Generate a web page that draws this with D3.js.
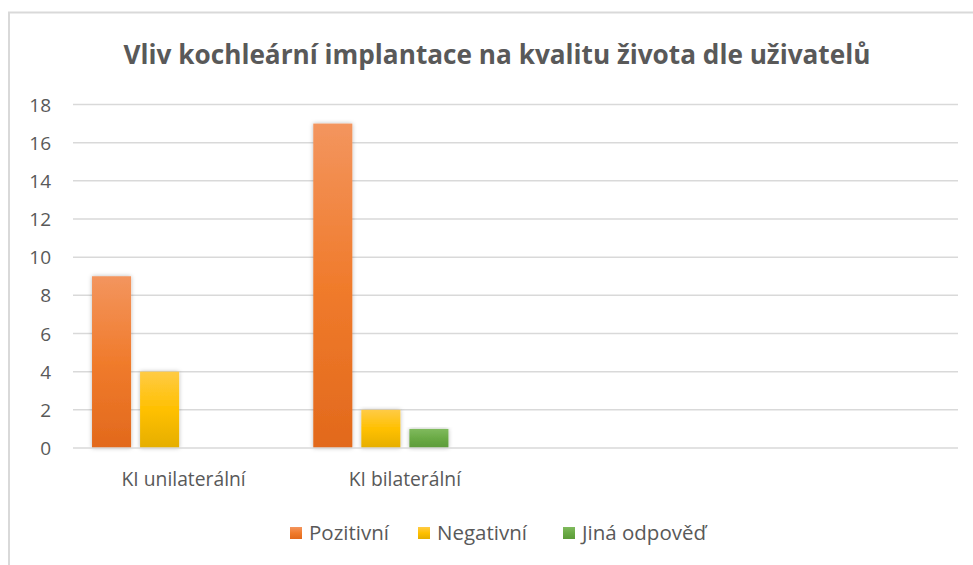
<!DOCTYPE html>
<html>
<head>
<meta charset="utf-8">
<script src="https://cdn.jsdelivr.net/npm/d3@7"></script>
<style>
  html, body { margin: 0; padding: 0; background: #fff; }
  svg { display: block; }
  text { font-family: "Open Sans", Lato, sans-serif; fill: #595959; }
</style>
</head>
<body>
<svg id="chart" width="973" height="565"></svg>
<script>
const titleText = "Vliv kochleární implantace na kvalitu života dle uživatelů";
const categories = ["KI unilaterální", "KI bilaterální", "", ""];
const seriesNames = ["Pozitivní", "Negativní", "Jiná odpověď"];
const pozitivni = [9, 17, null, null];
const negativni = [4, 2, null, null];
const jinaOdpoved = [null, 1, null, null];
const yTicks = [0, 2, 4, 6, 8, 10, 12, 14, 16, 18];

const seriesValues = [pozitivni, negativni, jinaOdpoved];
const seriesColors = [
  ["#F3955E", "#F07B2C", "#E2691C"],
  ["#FFCB45", "#FFC000", "#E5AE00"],
  ["#80BA5E", "#6AAA45", "#5C9B39"]
];

const FONT = "'Open Sans', Lato, sans-serif";
const svg = d3.select("#chart");
const W = 973, H = 565;
const plot = { left: 73, right: 958, top: 104.5, bottom: 448 };

// defs: gradients + shadow
const defs = svg.append("defs");
seriesColors.forEach((c, i) => {
  const g = defs.append("linearGradient").attr("id", "grad" + i)
    .attr("x1", 0).attr("y1", 0).attr("x2", 0).attr("y2", 1);
  g.append("stop").attr("offset", "0%").attr("stop-color", c[0]);
  g.append("stop").attr("offset", "50%").attr("stop-color", c[1]);
  g.append("stop").attr("offset", "100%").attr("stop-color", c[2]);
});
const f = defs.append("filter").attr("id", "shadow")
  .attr("x", "-30%").attr("y", "-10%").attr("width", "160%").attr("height", "130%");
f.append("feDropShadow").attr("dx", 0).attr("dy", 0).attr("stdDeviation", 2.2)
  .attr("flood-color", "#000").attr("flood-opacity", 0.28);

// chart border
svg.append("path")
  .attr("d", `M9,${H} L9,12.5 L${W},12.5`)
  .attr("fill", "none").attr("stroke", "#D9D9D9").attr("stroke-width", 2);

// title
svg.append("text")
  .attr("x", 497).attr("y", 64)
  .attr("text-anchor", "middle")
  .style("font-size", "26.2px").style("font-weight", "bold")
  .text(titleText);

// scales
const y = d3.scaleLinear().domain([0, 18]).range([plot.bottom, plot.top]);
const x0 = d3.scaleBand().domain(d3.range(categories.length))
  .range([plot.left, plot.right]).paddingInner(0.172).paddingOuter(0.086);
const slots = [...seriesNames.map((d, i) => i), seriesNames.length]; // 4th slot is empty in source
const x1 = d3.scaleBand().domain(slots).range([0, x0.bandwidth()])
  .paddingInner(0.1875).paddingOuter(0);

// gridlines
svg.append("g").selectAll("line").data(yTicks.filter(t => t > 0)).join("line")
  .attr("x1", plot.left).attr("x2", plot.right)
  .attr("y1", d => y(d)).attr("y2", d => y(d))
  .attr("stroke", "#D9D9D9").attr("stroke-width", 1.5);

// y axis labels
const yAxis = d3.axisLeft(y).tickValues(yTicks).tickSize(0).tickPadding(0);
const yg = svg.append("g").attr("transform", `translate(51,0)`).call(yAxis);
yg.select(".domain").remove();
yg.selectAll("text").style("font-size", "19px").attr("fill", "#595959")
  .style("font-family", FONT).attr("dy", "0.35em");

// bars
seriesValues.forEach((vals, si) => {
  svg.append("g").selectAll("rect")
    .data(vals.map((v, ci) => ({ v, ci })).filter(d => d.v != null))
    .join("rect")
    .attr("x", d => x0(d.ci) + x1(si))
    .attr("width", x1.bandwidth())
    .attr("y", d => y(d.v))
    .attr("height", d => y(0) - y(d.v))
    .attr("fill", `url(#grad${si})`)
    .attr("filter", "url(#shadow)");
});

// baseline
svg.append("line")
  .attr("x1", plot.left).attr("x2", plot.right)
  .attr("y1", y(0)).attr("y2", y(0))
  .attr("stroke", "#D9D9D9").attr("stroke-width", 1.5);

// x axis labels
const xAxis = d3.axisBottom(x0).tickSize(0).tickPadding(0).tickFormat(i => categories[i]);
const xg = svg.append("g").attr("transform", `translate(0,${y(0)})`).call(xAxis);
xg.select(".domain").remove();
xg.selectAll("text").style("font-size", "19.3px").attr("fill", "#595959")
  .style("font-family", FONT).attr("y", 38).attr("dy", 0);

// legend
const legendX = [290, 418, 563];
const lg = svg.append("g");
seriesNames.forEach((name, i) => {
  lg.append("rect").attr("x", legendX[i]).attr("y", 527).attr("width", 12).attr("height", 12)
    .attr("fill", `url(#grad${i})`);
  lg.append("text").attr("x", legendX[i] + 19).attr("y", 540)
    .style("font-size", "20.5px").text(name);
});
</script>
</body>
</html>
